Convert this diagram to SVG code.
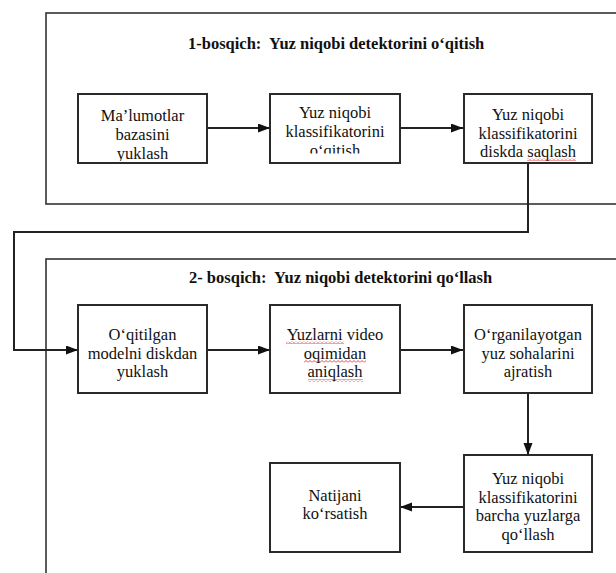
<svg xmlns="http://www.w3.org/2000/svg" width="616" height="573" viewBox="0 0 616 573">
<style>
.outer{fill:none;stroke:#333;stroke-width:1.6}
.box{fill:#fff;stroke:#2a2a2a;stroke-width:2}
.conn{fill:none;stroke:#222;stroke-width:2}
</style>
<defs>
<marker id="ah" markerUnits="userSpaceOnUse" markerWidth="12" markerHeight="10" refX="12" refY="4.5" orient="auto">
<path d="M0,0 L12,4.5 L0,9 z" fill="#111"/>
</marker>
<pattern id="sq" width="4" height="3" patternUnits="userSpaceOnUse">
<path d="M0,2.5 L2,0.5 L4,2.5" stroke="#e03030" stroke-width="0.9" fill="none"/>
</pattern>
<clipPath id="cA"><rect x="79" y="95" width="127" height="66"/></clipPath>
<clipPath id="cB"><rect x="271" y="95" width="128" height="58.5"/></clipPath>
</defs>
<rect width="616" height="573" fill="#fff"/>

<g id="stage1">
<rect class="outer" x="46" y="13" width="580" height="191"/>
<text font-family="Liberation Serif" font-size="16.5" font-weight="bold" fill="#111" x="188" y="49" xml:space="preserve">1-bosqich:  Yuz niqobi detektorini o‘qitish</text>
</g>
<g id="stage2">
<rect class="outer" x="46" y="259" width="580" height="330"/>
<text font-family="Liberation Serif" font-size="16.5" font-weight="bold" fill="#111" x="189" y="283" xml:space="preserve">2- bosqich:  Yuz niqobi detektorini qo‘llash</text>
</g>

<g id="connectors">
<line class="conn" x1="207" y1="128" x2="270" y2="128" marker-end="url(#ah)"/>
<line class="conn" x1="400" y1="128" x2="463" y2="128" marker-end="url(#ah)"/>
<polyline class="conn" points="528,163 528,232 14,232 14,350 78,350" marker-end="url(#ah)"/>
<line class="conn" x1="207" y1="350" x2="270" y2="350" marker-end="url(#ah)"/>
<line class="conn" x1="400" y1="350" x2="463" y2="350" marker-end="url(#ah)"/>
<line class="conn" x1="528" y1="393" x2="528" y2="455" marker-end="url(#ah)"/>
<line class="conn" x1="464" y1="507" x2="400" y2="507" marker-end="url(#ah)"/>
</g>

<g id="n1">
<rect class="box" x="78" y="94" width="129" height="69"/>
<g clip-path="url(#cA)">
<text font-family="Liberation Serif" font-size="16.5" fill="#111" text-anchor="middle" x="142.5" y="121">Ma’lumotlar</text>
<text font-family="Liberation Serif" font-size="16.5" fill="#111" text-anchor="middle" x="142.5" y="140">bazasini</text>
<text font-family="Liberation Serif" font-size="16.5" fill="#111" text-anchor="middle" x="142.5" y="159">yuklash</text>
</g>
</g>
<g id="n2">
<rect class="box" x="270" y="94" width="130" height="69"/>
<g clip-path="url(#cB)">
<text font-family="Liberation Serif" font-size="16.5" fill="#111" text-anchor="middle" x="335" y="118">Yuz niqobi</text>
<text font-family="Liberation Serif" font-size="16.5" fill="#111" text-anchor="middle" x="335" y="137">klassifikatorini</text>
<text font-family="Liberation Serif" font-size="16.5" fill="#111" text-anchor="middle" x="335" y="156">o‘qitish</text>
</g>
</g>
<g id="n3">
<rect class="box" x="464" y="94" width="128" height="69"/>
<text font-family="Liberation Serif" font-size="16.5" fill="#111" text-anchor="middle" x="528" y="120">Yuz niqobi</text>
<text font-family="Liberation Serif" font-size="16.5" fill="#111" text-anchor="middle" x="528" y="138.5">klassifikatorini</text>
<text font-family="Liberation Serif" font-size="16.5" fill="#111" text-anchor="middle" x="528" y="157">diskda saqlash</text>
<rect fill="url(#sq)" x="527" y="158" width="49" height="3"/>
</g>

<g id="n4">
<rect class="box" x="78" y="305" width="129" height="88"/>
<text font-family="Liberation Serif" font-size="16.5" fill="#111" text-anchor="middle" x="142.5" y="340">O‘qitilgan</text>
<text font-family="Liberation Serif" font-size="16.5" fill="#111" text-anchor="middle" x="142.5" y="358.5">modelni diskdan</text>
<text font-family="Liberation Serif" font-size="16.5" fill="#111" text-anchor="middle" x="142.5" y="377">yuklash</text>
</g>
<g id="n5">
<rect class="box" x="270" y="305" width="130" height="88"/>
<text font-family="Liberation Serif" font-size="16.5" fill="#111" text-anchor="middle" x="335" y="340">Yuzlarni video</text>
<text font-family="Liberation Serif" font-size="16.5" fill="#111" text-anchor="middle" x="335" y="358.5">oqimidan</text>
<text font-family="Liberation Serif" font-size="16.5" fill="#111" text-anchor="middle" x="335" y="377">aniqlash</text>
<rect fill="url(#sq)" x="286" y="341" width="58" height="3"/>
<rect fill="url(#sq)" x="304" y="360" width="62" height="3"/>
<rect fill="url(#sq)" x="308" y="379" width="55" height="3"/>
</g>
<g id="n6">
<rect class="box" x="464" y="305" width="128" height="88"/>
<text font-family="Liberation Serif" font-size="16.5" fill="#111" text-anchor="middle" x="528" y="340">O‘rganilayotgan</text>
<text font-family="Liberation Serif" font-size="16.5" fill="#111" text-anchor="middle" x="528" y="358.5">yuz sohalarini</text>
<text font-family="Liberation Serif" font-size="16.5" fill="#111" text-anchor="middle" x="528" y="377">ajratish</text>
</g>
<g id="n7">
<rect class="box" x="464" y="455" width="128" height="97"/>
<text font-family="Liberation Serif" font-size="16.5" fill="#111" text-anchor="middle" x="528" y="484">Yuz niqobi</text>
<text font-family="Liberation Serif" font-size="16.5" fill="#111" text-anchor="middle" x="528" y="502.7">klassifikatorini</text>
<text font-family="Liberation Serif" font-size="16.5" fill="#111" text-anchor="middle" x="528" y="521.4">barcha yuzlarga</text>
<text font-family="Liberation Serif" font-size="16.5" fill="#111" text-anchor="middle" x="528" y="540">qo‘llash</text>
</g>
<g id="n8">
<rect class="box" x="270" y="463" width="130" height="89"/>
<text font-family="Liberation Serif" font-size="16.5" fill="#111" text-anchor="middle" x="335" y="501">Natijani</text>
<text font-family="Liberation Serif" font-size="16.5" fill="#111" text-anchor="middle" x="335" y="519">ko‘rsatish</text>
</g>
</svg>
